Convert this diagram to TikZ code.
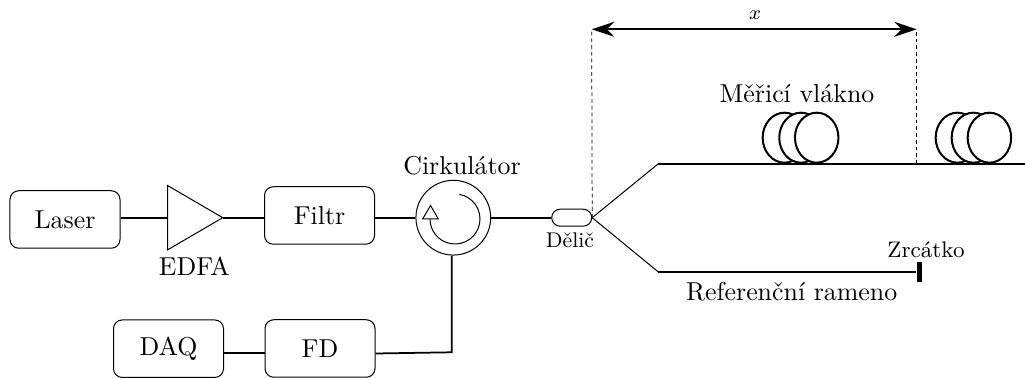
\documentclass[tikz,border=0pt]{standalone}
\usetikzlibrary{shapes.geometric,arrows.meta,calc}
\tikzset{
  every node/.style={font=\fontsize{10.35}{12}\selectfont},
  blok/.style={draw,rounded corners=3.5pt,minimum width=44pt,minimum height=23pt,inner sep=0pt},
  civka/.style={draw,line width=0.8pt,fill=white,ellipse,minimum width=17.4pt,minimum height=20pt,inner sep=0pt},
  vlakno/.style={line width=0.7pt},
  carky/.style={line width=0.3pt,dash pattern=on 1.5pt off 1.2pt},
  popis/.style={inner sep=0pt}
}
\begin{document}
\begin{tikzpicture}[x=0.4pt,y=0.4pt]
\useasboundingbox (0,0) rectangle (1025,378);

\node[blok] (laser) at (65,158.5) {Laser};
\node[blok] (filtr) at (319.5,162.5) {Filtr};
\node[blok] (daq) at (168.5,29.3) {DAQ};
\node[blok] (fd) at (320,29.5) {FD};
\node[draw,isosceles triangle,isosceles triangle stretches,minimum width=25.7pt,minimum height=22pt,inner sep=0pt,outer sep=0pt,anchor=lower side] (edfa) at (167.7,160.3) {};
\node[popis] (edfatext) at (194.3,111.5) {EDFA};

% cirkulator
\node[draw,circle,minimum size=29.9pt,inner sep=0pt] (cirk) at (453.3,160.3) {};
\node[popis] (cirktext) at (462,212) {Cirkulátor};
\coordinate (start) at ($(455,159)+(80:25)$);
\draw (start) arc[start angle=80,end angle=-180,radius=25] coordinate (konec);
\node[draw,fill=white,isosceles triangle,isosceles triangle stretches,shape border rotate=90,minimum width=6.2pt,minimum height=5.3pt,inner sep=0pt,anchor=south] (sipka) at (430.5,158.7) {};

\node[draw,rounded corners=3.4pt,minimum width=16pt,minimum height=6.8pt,inner sep=0pt] (delic) at (571.7,160.3) {};
\node[popis,font=\fontsize{8.5}{10}\selectfont] (delictext) at (570,138) {Dělič};

\coordinate (horni) at (658,214);
\coordinate (dolni) at (658,106.3);
\coordinate (konechorni) at (1025,214);
\coordinate (odbocka) at (916.7,214);
\node[fill=black,minimum width=2.1pt,minimum height=8pt,inner sep=0pt] (zrcadlo) at (919.3,106.3) {};
\node[popis,font=\small] (zrcadlotext) at (926,128) {Zrcátko};
\node[popis] (referencni) at (791.7,86) {Referenční rameno};
\node[popis] (merici) at (797,284) {Měřicí vlákno};

\draw[vlakno] (laser.east |- edfa.lower side) -- (edfa.lower side);
\draw[vlakno] (edfa.apex) -- (filtr.west |- edfa.apex);
\draw[vlakno] (filtr.east |- edfa.apex) -- (cirk.west);
\draw[vlakno] (cirk.east) -- (delic.west);
\draw[vlakno] (daq.east |- 0,25) -- (fd.west |- 0,25);
\draw[vlakno] (fd.east |- 0,24.5) -- (451.7,25.7) -- (cirk.south -| 451.7,0);
\draw (delic.east) -- (horni);
\draw (delic.east) -- (dolni);
\draw[vlakno] (horni) -- (konechorni);
\draw[vlakno] (dolni) -- (zrcadlo.west);

\foreach \jm/\px in {a/784.4,b/801,c/816.7,d/957.4,e/973.4,f/989.4}
  \node[civka] (civka\jm) at (\px,240.3) {};

\coordinate (levy) at (591.7,348.7);
\coordinate (pravy) at (916.7,348.7);
\draw[carky] (delic.east) -- (levy);
\draw[carky] (odbocka) -- (pravy);
\draw[vlakno,{Stealth[length=9pt,width=6pt]}-{Stealth[length=9pt,width=6pt]}] (levy) -- (pravy);
\node[popis,font=\footnotesize] (xtext) at (755,363) {$x$};
\end{tikzpicture}
\end{document}
